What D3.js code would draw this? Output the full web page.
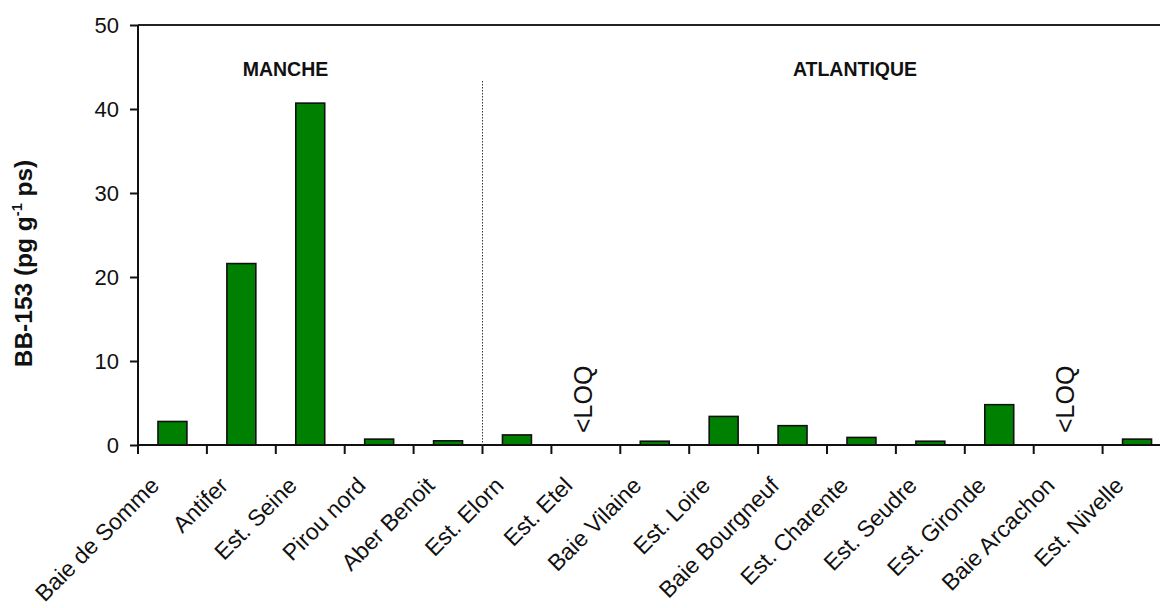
<!DOCTYPE html>
<html><head><meta charset="utf-8">
<script src="https://cdn.jsdelivr.net/npm/d3@7"></script>
<style>
html,body{margin:0;padding:0;background:#fff;}
svg{display:block;font-family:"Liberation Sans",Arial,sans-serif;}
</style></head>
<body><svg id="c" width="1160" height="608"></svg>
<script>
const categories = ["Baie de Somme","Antifer","Est. Seine","Pirou nord","Aber Benoit","Est. Elorn","Est. Etel","Baie Vilaine","Est. Loire","Baie Bourgneuf","Est. Charente","Est. Seudre","Est. Gironde","Baie Arcachon","Est. Nivelle"];
const values = [2.8, 21.6, 40.7, 0.7, 0.5, 1.2, null, 0.45, 3.4, 2.3, 0.9, 0.45, 4.8, null, 0.7];
const yTicks = [0, 10, 20, 30, 40, 50];
const groupNames = ["MANCHE", "ATLANTIQUE"];
const groupSizes = [5, 10];
const loqLabel = "<LOQ";
const yTitle = "BB-153 (pg g";

const svg = d3.select("#c");
const x0 = 138, x1 = 1171.5, yB = 445, yT = 25;
const xStep = d3.scaleBand().domain(categories).range([x0, x1]).padding(0);
const xBar = d3.scaleBand().domain(categories).range([x0, x1]).paddingInner(0.58).paddingOuter(0.29);
const y = d3.scaleLinear().domain([0, 50]).range([yB, yT]);
const cx = c => xStep(c) + xStep.bandwidth() / 2;

// top frame line
svg.append("line").attr("x1", x0).attr("x2", 1160).attr("y1", yT).attr("y2", yT)
  .attr("stroke", "#222").attr("stroke-width", 2);

// bars
svg.append("g").selectAll("rect").data(categories.map((c,i)=>({c, v: values[i]})).filter(d=>d.v!==null))
  .join("rect")
  .attr("x", d => xBar(d.c)).attr("width", xBar.bandwidth())
  .attr("y", d => y(d.v)).attr("height", d => y(0) - y(d.v))
  .attr("fill", "#008000").attr("stroke", "#111").attr("stroke-width", 1.6);

// <LOQ labels
svg.append("g").selectAll("text").data(categories.filter((c,i)=>values[i]===null))
  .join("text")
  .attr("transform", c => `translate(${cx(c) - 3},433) rotate(-90)`)
  .attr("dy", "0.36em").attr("font-size", 25).attr("fill", "#111").text(loqLabel);

// y axis
const yAxis = d3.axisLeft(y).tickValues(yTicks).tickSize(8).tickPadding(11);
const gy = svg.append("g").attr("transform", `translate(${x0},0)`).call(yAxis);
gy.select(".domain").attr("stroke", "#111").attr("stroke-width", 2).attr("d", `M0,${yT}V${yB+8}`);
gy.selectAll(".tick line").attr("stroke", "#111").attr("stroke-width", 2);
gy.selectAll(".tick text").attr("font-size", 22).attr("fill", "#111").attr("font-family", "Liberation Sans, Arial, sans-serif");

// x axis
const boundaries = d3.range(categories.length + 1).map(i => x0 + i * xStep.step());
svg.append("line").attr("x1", x0).attr("x2", 1160).attr("y1", yB).attr("y2", yB)
  .attr("stroke", "#111").attr("stroke-width", 2.2);
svg.append("g").selectAll("line").data(boundaries).join("line")
  .attr("x1", d => d).attr("x2", d => d).attr("y1", yB).attr("y2", yB + 9)
  .attr("stroke", "#111").attr("stroke-width", 2);

// category labels
svg.append("g").selectAll("text").data(categories).join("text")
  .attr("transform", c => `translate(${cx(c) - 12},487) rotate(-45)`)
  .attr("text-anchor", "end").attr("font-size", 23).attr("fill", "#111").text(c => c);

// group separator (dotted)
const sepX = x0 + groupSizes[0] * xStep.step();
svg.append("line").attr("x1", sepX).attr("x2", sepX).attr("y1", 81).attr("y2", yB)
  .attr("stroke", "#333").attr("stroke-width", 1).attr("stroke-dasharray", "1.5,1.5");

// group labels
const groupLabelX = [285.5, 855];
svg.append("g").selectAll("text").data(groupNames).join("text")
  .attr("x", (d,i) => groupLabelX[i]).attr("y", 76)
  .attr("text-anchor", "middle").attr("font-size", 19.5).attr("font-weight", "bold").attr("fill", "#111")
  .text(d => d);

// y title
const t = svg.append("text").attr("transform", "translate(32,263.5) rotate(-90)")
  .attr("text-anchor", "middle").attr("font-size", 24.5).attr("font-weight", "bold").attr("fill", "#111");
t.append("tspan").text(yTitle);
t.append("tspan").attr("font-size", 14.5).attr("dy", -10).text("-1");
t.append("tspan").attr("dy", 10).text(" ps)");
</script></body></html>
